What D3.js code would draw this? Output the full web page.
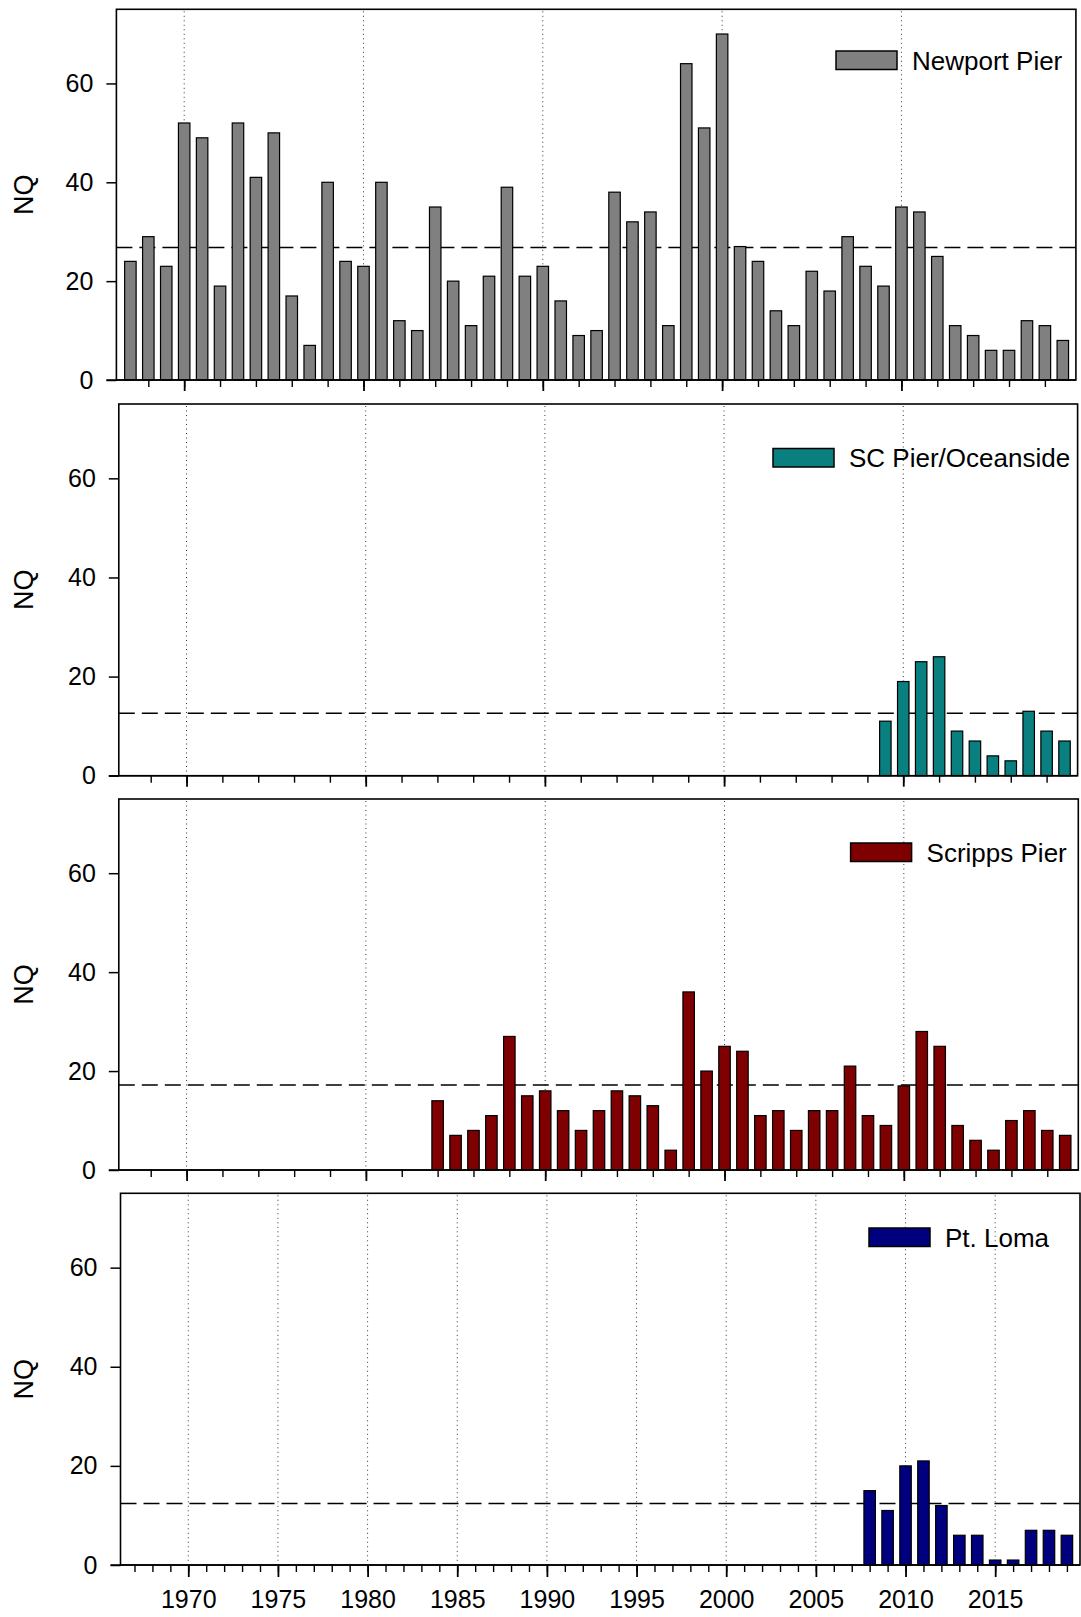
<!DOCTYPE html>
<html>
<head>
<meta charset="utf-8">
<script src="https://cdn.jsdelivr.net/npm/d3@7"></script>
<style>
  body { margin: 0; background: #fff; }
  svg { display: block; }
  text { font-family: "Liberation Sans", Arial, sans-serif; fill: #000; }
</style>
</head>
<body>
<div id="chart"></div>
<script>
// NQ per year
let newportStart = 1967;
let newportNQ = [24, 29, 23, 52, 49, 19, 52, 41, 50, 17, 7, 40, 24, 23, 40, 12, 10, 35, 20, 11,
  21, 39, 21, 23, 16, 9, 10, 38, 32, 34, 11, 64, 51, 70, 27, 24, 14, 11, 22, 18,
  29, 23, 19, 35, 34, 25, 11, 9, 6, 6, 12, 11, 8];

let scStart = 2009;
let scNQ = [11, 19, 23, 24, 9, 7, 4, 3, 13, 9, 7];

let scrippsStart = 1984;
let scrippsNQ = [14, 7, 8, 11, 27, 15, 16, 12, 8, 12, 16, 15, 13, 4, 36, 20, 25, 24, 11, 12,
  8, 12, 12, 21, 11, 9, 17, 28, 25, 9, 6, 4, 10, 12, 8, 7];

let lomaStart = 2008;
let lomaNQ = [15, 11, 20, 21, 12, 6, 6, 1, 1, 7, 7, 6];

let seriesNames = ['Newport Pier', 'SC Pier/Oceanside', 'Scripps Pier', 'Pt. Loma'];
let seriesColors = ['#808080', '#0a7f7f', '#7f0000', '#00007f'];
let meanNQ = [26.8, 12.6, 17.2, 12.4];   // dashed reference lines

let yTicks = [0, 20, 40, 60];
let xLabels = [1970, 1975, 1980, 1985, 1990, 1995, 2000, 2005, 2010, 2015];

let series = [
  { start: newportStart, values: newportNQ },
  { start: scStart, values: scNQ },
  { start: scrippsStart, values: scrippsNQ },
  { start: lomaStart, values: lomaNQ }
];

// panel frames (the panels are slightly offset from each other in the original)
let layout = [
  { top: 9.3, bottom: 380, left: 116.4, right: 1075.9, lx: 836, ly: 51 },
  { top: 404, bottom: 775.7, left: 118.8, right: 1077.6, lx: 773, ly: 448.5 },
  { top: 799, bottom: 1170, left: 118.8, right: 1078.3, lx: 850.6, ly: 843 },
  { top: 1193.3, bottom: 1565, left: 120.5, right: 1080, lx: 869, ly: 1228 }
];

let W = 1081, H = 1617;
let svg = d3.select('#chart').
append('svg').
attr('width', W).
attr('height', H);

layout.forEach(function (p, i) {
  let last = i === layout.length - 1;
  let data = series[i].values.map(function (v, k) {
    return { year: series[i].start + k, value: v };
  });

  let x = d3.scaleLinear().
  domain([1966.22, 2019.73]).
  range([p.left, p.right]);

  let y = d3.scaleLinear().
  domain([0, 75]).
  range([p.bottom, p.top]);

  let g = svg.append('g').attr('class', 'panel');

  //dotted vertical grid
  let gridYears = last ? xLabels : [1970, 1980, 1990, 2000, 2010];
  g.selectAll('line.grid').
  data(gridYears).
  enter().
  append('line').
  attr('class', 'grid').
  attr('x1', d => x(d)).
  attr('x2', d => x(d)).
  attr('y1', p.top + 2).
  attr('y2', p.bottom).
  attr('stroke', '#333').
  attr('stroke-width', 1).
  attr('stroke-dasharray', '1,3.5');

  //mean line
  g.append('line').
  attr('x1', p.left).
  attr('x2', p.right).
  attr('y1', y(meanNQ[i])).
  attr('y2', y(meanNQ[i])).
  attr('stroke', '#000').
  attr('stroke-width', 1.5).
  attr('stroke-dasharray', '16,7');

  //bars
  let bw = 0.64 * (x(1) - x(0));
  g.selectAll('rect.bar').
  data(data).
  enter().
  append('rect').
  attr('class', 'bar').
  attr('x', d => x(d.year) - bw / 2).
  attr('y', d => y(d.value)).
  attr('width', bw).
  attr('height', d => y(0) - y(d.value)).
  attr('fill', seriesColors[i]).
  attr('stroke', '#000').
  attr('stroke-width', 1.2);

  //frame
  g.append('rect').
  attr('x', p.left).
  attr('y', p.top).
  attr('width', p.right - p.left).
  attr('height', p.bottom - p.top).
  attr('fill', 'none').
  attr('stroke', '#000').
  attr('stroke-width', 1.6);

  //y axis
  let yAxis = g.append('g').
  attr('transform', 'translate(' + p.left + ',0)').
  call(d3.axisLeft(y).tickValues(yTicks).tickSize(10).tickPadding(13));
  yAxis.select('.domain').remove();
  yAxis.selectAll('line').attr('stroke-width', 1.5);
  yAxis.selectAll('text').
  style('font-size', '25px').
  style('font-family', '"Liberation Sans", Arial, sans-serif');

  //x axis: minor and major ticks
  let minorYears = last ? d3.range(1967, 2020) : d3.range(1968, 2020, 2);
  let majorYears = last ? xLabels : [1970, 1980, 1990, 2000, 2010];

  let xMinor = g.append('g').
  attr('transform', 'translate(0,' + p.bottom + ')').
  call(d3.axisBottom(x).tickValues(minorYears).tickSize(7).tickFormat(''));
  xMinor.select('.domain').remove();
  xMinor.selectAll('line').attr('stroke-width', 1.4);

  let xMajor = g.append('g').
  attr('transform', 'translate(0,' + p.bottom + ')').
  call(d3.axisBottom(x).tickValues(majorYears).tickSize(last ? 12 : 11).tickPadding(13).
  tickFormat(last ? d3.format('d') : ''));
  xMajor.select('.domain').remove();
  xMajor.selectAll('line').attr('stroke-width', 1.8);
  xMajor.selectAll('text').
  style('font-size', '25px').
  style('font-family', '"Liberation Sans", Arial, sans-serif');

  //baseline extends to the y tick
  g.append('line').
  attr('x1', p.left - 10).
  attr('x2', p.right).
  attr('y1', p.bottom).
  attr('y2', p.bottom).
  attr('stroke', '#000').
  attr('stroke-width', 1.6);

  //y label
  g.append('text').
  attr('transform', 'translate(' + 33 + ',' + (p.top + p.bottom) / 2 + ') rotate(-90)').
  attr('text-anchor', 'middle').
  style('font-size', '27px').
  text('NQ');

  //legend
  let legend = g.append('g').attr('class', 'legend');
  legend.append('rect').
  attr('x', p.lx).
  attr('y', p.ly).
  attr('width', 61).
  attr('height', 18.5).
  attr('fill', seriesColors[i]).
  attr('stroke', '#000').
  attr('stroke-width', 1.5);
  legend.append('text').
  attr('x', p.lx + 76).
  attr('y', p.ly + 9.5).
  attr('dy', '0.35em').
  style('font-size', '26px').
  text(seriesNames[i]);
});
</script>
</body>
</html>
